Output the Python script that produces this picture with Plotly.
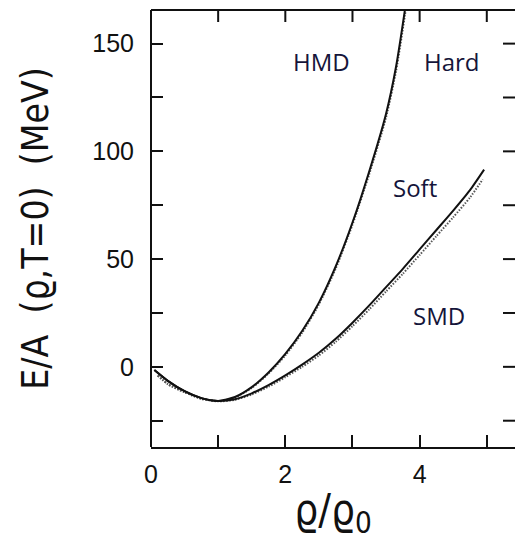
import plotly.graph_objects as go

# Density in units of rho0
rho_hard = [0.05, 0.25, 0.5, 0.75, 1.0, 1.25, 1.5, 1.75, 2.0, 2.25, 2.5, 2.75, 3.0, 3.25, 3.5, 3.65, 3.78, 3.85]
E_hard = [-1.5, -6.5, -11.3, -14.5, -15.8, -14.0, -9.4, -2.6, 6.0, 16.6, 29.8, 46.6, 67.0, 90.8, 117.5, 139.5, 165.4, 181.0]

rho_hmd = [0.1, 0.25, 0.5, 0.75, 1.0, 1.25, 1.5, 1.75, 2.0, 2.25, 2.5, 2.75, 3.0, 3.25, 3.5, 3.65, 3.78, 3.85]
E_hmd = [-4.0, -8.0, -11.8, -14.8, -15.9, -14.2, -9.8, -3.1, 5.3, 15.8, 29.0, 45.6, 66.0, 89.5, 115.8, 137.5, 163.0, 178.0]

rho_soft = [0.05, 0.25, 0.5, 0.75, 1.0, 1.25, 1.5, 1.75, 2.0, 2.25, 2.5, 2.75, 3.0, 3.25, 3.5, 3.75, 4.0, 4.25, 4.5, 4.75, 4.96]
E_soft = [-1.5, -6.5, -11.3, -14.5, -15.8, -15.0, -12.3, -8.5, -4.0, 1.0, 6.5, 13.0, 20.5, 28.5, 37.0, 45.5, 54.5, 63.5, 72.5, 82.0, 91.5]

rho_smd = [0.1, 0.25, 0.5, 0.75, 1.0, 1.25, 1.5, 1.75, 2.0, 2.25, 2.5, 2.75, 3.0, 3.25, 3.5, 3.75, 4.0, 4.25, 4.5, 4.75, 4.94]
E_smd = [-4.0, -8.0, -11.8, -14.8, -16.0, -15.3, -12.8, -9.2, -4.8, 0.0, 5.3, 11.6, 18.9, 26.7, 35.0, 43.2, 51.9, 60.7, 69.4, 78.6, 87.0]

x_major = [0, 2, 4]
x_minor = [1, 3, 5]
y_major = [0, 50, 100, 150]
y_minor = [-25, 25, 75, 125]

labels = ["HMD", "Hard", "Soft", "SMD"]
label_x = [2.54, 4.48, 3.93, 4.29]
label_y = [141.5, 141.5, 83.0, 24.0]

x_range = [0, 5.42]
y_range = [-37.2, 165.6]

W, H = 515, 540
M = dict(l=151, r=0, t=10, b=93)
TICKLEN = 12
plot_w = W - M["l"] - M["r"]
plot_h = H - M["t"] - M["b"]

fig = go.Figure()
dot_line = dict(color="#555555", width=2, dash="1.5px,1.5px", shape="spline", smoothing=0.6)
solid_line = dict(color="#111111", width=2, shape="spline", smoothing=0.6)
fig.add_trace(go.Scatter(x=rho_hmd, y=E_hmd, mode="lines", line=dot_line))
fig.add_trace(go.Scatter(x=rho_smd, y=E_smd, mode="lines", line=dot_line))
fig.add_trace(go.Scatter(x=rho_hard, y=E_hard, mode="lines", line=solid_line))
fig.add_trace(go.Scatter(x=rho_soft, y=E_soft, mode="lines", line=solid_line))

for t, x, y in zip(labels, label_x, label_y):
    fig.add_annotation(x=x, y=y, text=t, showarrow=False,
                       font=dict(family="Open Sans, Noto Sans, sans-serif", size=24, color="#15153a"))

dark = "#111111"
# frame edges: left and top (bottom is the x axis line; the right edge lies outside the picture)
fig.add_shape(type="line", xref="paper", yref="paper", x0=0, x1=0, y0=0, y1=1,
              line=dict(color=dark, width=2))
fig.add_shape(type="line", xref="paper", yref="paper", x0=0, x1=1, y0=1, y1=1,
              line=dict(color=dark, width=2))
# mirrored inside ticks on the top and right edges
for v in x_major + x_minor:
    fig.add_shape(type="line", xref="x", yref="paper", x0=v, x1=v,
                  y0=1, y1=1 - TICKLEN / plot_h, line=dict(color=dark, width=2))
for v in y_major + y_minor:
    fig.add_shape(type="line", xref="paper", yref="y", x0=1, x1=1 - TICKLEN / plot_w,
                  y0=v, y1=v, line=dict(color=dark, width=2))

axis_font = "Liberation Sans Narrow, DejaVu Sans Condensed, Liberation Sans, sans-serif"
tick_style = dict(ticks="inside", ticklen=TICKLEN, tickwidth=2, tickcolor=dark)

fig.update_layout(
    width=W, height=H,
    margin=M,
    paper_bgcolor="white", plot_bgcolor="white",
    showlegend=False,
    xaxis=dict(
        range=x_range, tickmode="array", tickvals=x_major, **tick_style,
        minor=dict(tickvals=x_minor, **tick_style),
        showline=True, linewidth=2, linecolor=dark,
        showgrid=False, zeroline=False,
        tickfont=dict(family="Liberation Sans, sans-serif", size=25, color=dark),
        ticklabelstandoff=4,
        title=dict(text="ϱ/ϱ<sub>0</sub>", standoff=9,
                   font=dict(family=axis_font, size=42, color=dark)),
    ),
    yaxis=dict(
        range=y_range, tickmode="array", tickvals=y_major, **tick_style,
        minor=dict(tickvals=y_minor, **tick_style),
        showline=False,
        showgrid=False, zeroline=False,
        tickfont=dict(family="Liberation Sans, sans-serif", size=25, color=dark),
        ticklabelstandoff=16,
        title=dict(text="E/A  (ϱ,T=0)  (MeV)", standoff=32,
                   font=dict(family=axis_font, size=37, color=dark)),
    ),
)

fig.write_html("out.html")
